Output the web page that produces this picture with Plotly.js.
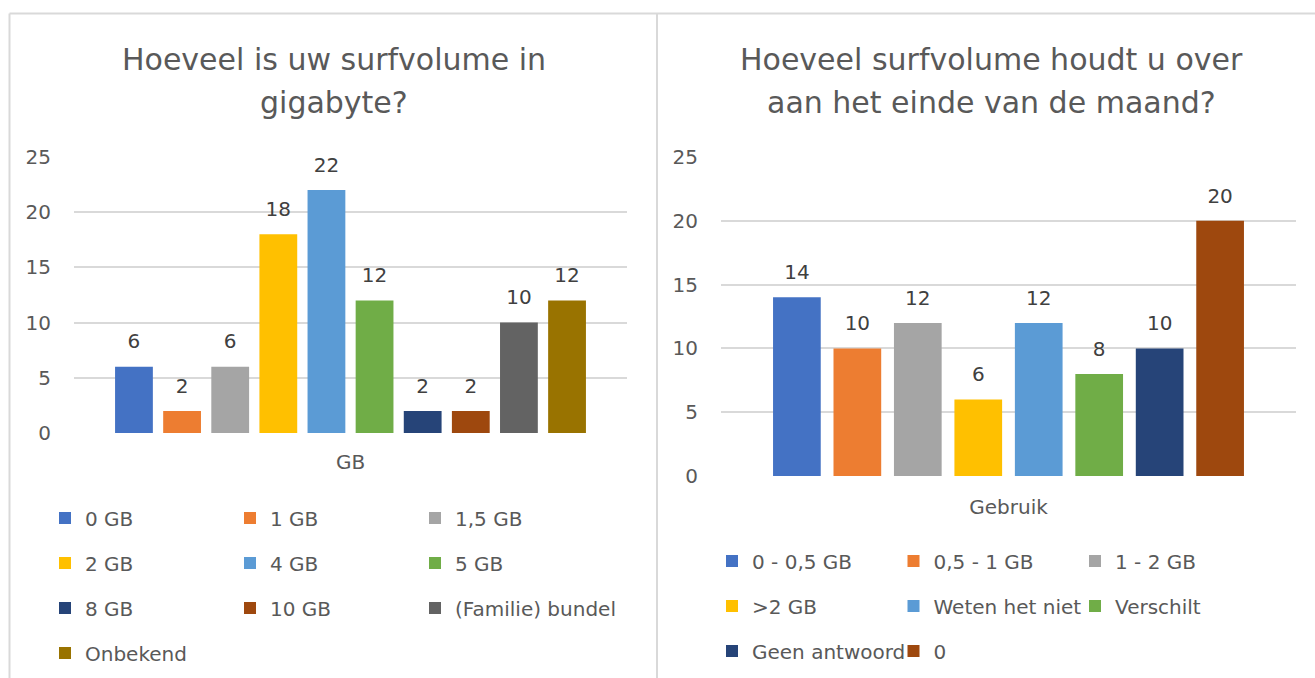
<!DOCTYPE html>
<html>
<head>
<meta charset="utf-8">
<script src="https://cdn.plot.ly/plotly-3.0.1.min.js"></script>
<style>html,body{margin:0;padding:0;background:#fff;}#chart{width:1315px;height:678px;}</style>
</head>
<body>
<div id="chart"></div>
<script>
// ---------- data ----------
const leftTitleLines = ['Hoeveel is uw surfvolume in', 'gigabyte?'];
const leftAxisLabel = 'GB';
const leftCategories = ['0 GB', '1 GB', '1,5 GB', '2 GB', '4 GB', '5 GB', '8 GB', '10 GB', '(Familie) bundel', 'Onbekend'];
const leftValues = [6, 2, 6, 18, 22, 12, 2, 2, 10, 12];
const leftColors = ['#4472C4', '#ED7D31', '#A5A5A5', '#FFC000', '#5B9BD5', '#70AD47', '#264478', '#9E480E', '#636363', '#997300'];

const rightTitleLines = ['Hoeveel surfvolume houdt u over', 'aan het einde van de maand?'];
const rightAxisLabel = 'Gebruik';
const rightCategories = ['0 - 0,5 GB', '0,5 - 1 GB', '1 - 2 GB', '>2 GB', 'Weten het niet', 'Verschilt', 'Geen antwoord', '0'];
const rightValues = [14, 10, 12, 6, 12, 8, 10, 20];
const rightColors = ['#4472C4', '#ED7D31', '#A5A5A5', '#FFC000', '#5B9BD5', '#70AD47', '#264478', '#9E480E'];

const yTicks = [0, 5, 10, 15, 20, 25];

// ---------- layout constants ----------
const W = 1315, H = 678;
const FONT = '"DejaVu Sans", sans-serif';
const TXT = 20;
const px = v => v / W;
const py = v => 1 - v / H;

const panels = [
  {
    cats: leftCategories, vals: leftValues, colors: leftColors, axisLabel: leftAxisLabel, title: leftTitleLines,
    xa: 'x', ya: 'y', plotL: 74, plotR: 627, plotT: 157, plotB: 433,
    slot: 48.12, barW: 37.8, xStandoff: 15, yStandoff: 22,
    titleX: 334, legendX: 45, legendRows: [518, 563, 608, 653], perRow: 3, colW: 185
  },
  {
    cats: rightCategories, vals: rightValues, colors: rightColors, axisLabel: rightAxisLabel, title: rightTitleLines,
    xa: 'x2', ya: 'y2', plotL: 721, plotR: 1296, plotT: 157, plotB: 476,
    slot: 60.46, barW: 47.7, xStandoff: 17, yStandoff: 22,
    titleX: 991, legendX: 712, legendRows: [561, 606, 651], perRow: 3, colW: 181.5
  }
];

const traces = [];
const layout = {
  width: W, height: H,
  margin: {l: 0, r: 0, t: 0, b: 0},
  paper_bgcolor: '#ffffff', plot_bgcolor: 'rgba(0,0,0,0)',
  font: {family: FONT, color: '#595959', size: TXT},
  barmode: 'overlay',
  showlegend: true,
  annotations: [],
  shapes: [
    {type: 'line', xref: 'paper', yref: 'paper', x0: px(9.5), x1: px(9.5), y0: py(13.5), y1: 0, line: {color: '#d9d9d9', width: 2}},
    {type: 'line', xref: 'paper', yref: 'paper', x0: px(9.5), x1: 1, y0: py(13.5), y1: py(13.5), line: {color: '#d9d9d9', width: 2}},
    {type: 'line', xref: 'paper', yref: 'paper', x0: px(657), x1: px(657), y0: py(13.5), y1: 0, line: {color: '#d9d9d9', width: 2}}
  ]
};

let legendIdx = 0;
panels.forEach((p, pi) => {
  const n = p.cats.length;
  const plotW = p.plotR - p.plotL;
  const slotU = p.slot / plotW, barU = p.barW / plotW;
  const unitPx = (p.plotB - p.plotT) / 25;
  const liftU = 10.3 / unitPx;
  const axisSuffix = pi === 0 ? '' : '2';

  layout['xaxis' + axisSuffix] = {
    domain: [px(p.plotL), px(p.plotR)], anchor: p.ya, type: 'category', range: [-0.5, 0.5],
    showgrid: false, showline: false, zeroline: false, ticks: '',
    tickfont: {family: FONT, size: TXT, color: '#595959'}, ticklabelstandoff: p.xStandoff, fixedrange: true
  };
  layout['yaxis' + axisSuffix] = {
    domain: [py(p.plotB), py(p.plotT)], anchor: p.xa, range: [0, 25], tickvals: yTicks,
    showgrid: true, gridcolor: '#d9d9d9', gridwidth: 2, zeroline: false, showline: false, ticks: '',
    tickfont: {family: FONT, size: TXT, color: '#595959'}, ticklabelstandoff: p.yStandoff, fixedrange: true
  };

  p.cats.forEach((c, i) => {
    // one legend box per entry, laid out in a grid of perRow columns
    legendIdx++;
    const lname = legendIdx === 1 ? 'legend' : 'legend' + legendIdx;
    const row = Math.floor(i / p.perRow), col = i % p.perRow;
    layout[lname] = {
      orientation: 'h', x: px(p.legendX + col * p.colW), xanchor: 'left',
      y: py(p.legendRows[row]), yanchor: 'middle',
      bgcolor: 'rgba(0,0,0,0)', borderwidth: 0,
      font: {family: FONT, size: TXT, color: '#595959'}
    };
    const offset = -n * slotU / 2 + i * slotU + (slotU - barU) / 2;
    traces.push({
      type: 'bar', name: c, x: [p.axisLabel], y: [p.vals[i]],
      xaxis: p.xa, yaxis: p.ya, offset: offset, width: barU,
      marker: {color: p.colors[i], line: {width: 0}},
      legend: lname,
      hovertemplate: c + ': %{y}<extra></extra>'
    });
    // data label: transparent lift bar resting on the value, text drawn above it
    traces.push({
      type: 'bar', name: c + ' label', x: [p.axisLabel], y: [liftU], base: [p.vals[i]],
      xaxis: p.xa, yaxis: p.ya, offset: offset, width: barU,
      marker: {color: 'rgba(0,0,0,0)', line: {width: 0}},
      text: [String(p.vals[i])], textposition: 'outside', cliponaxis: false,
      textfont: {family: FONT, size: TXT, color: '#404040'},
      showlegend: false, hoverinfo: 'skip', legend: lname
    });
  });

  // titles (one annotation per line)
  p.title.forEach((t, li) => {
    layout.annotations.push({
      text: t, xref: 'paper', yref: 'paper', x: px(p.titleX), y: py(59.7 + li * 43),
      xanchor: 'center', yanchor: 'middle', showarrow: false,
      font: {family: FONT, size: 30, color: '#595959'}
    });
  });
});

Plotly.newPlot('chart', traces, layout, {displayModeBar: false, responsive: false});
</script>
</body>
</html>
